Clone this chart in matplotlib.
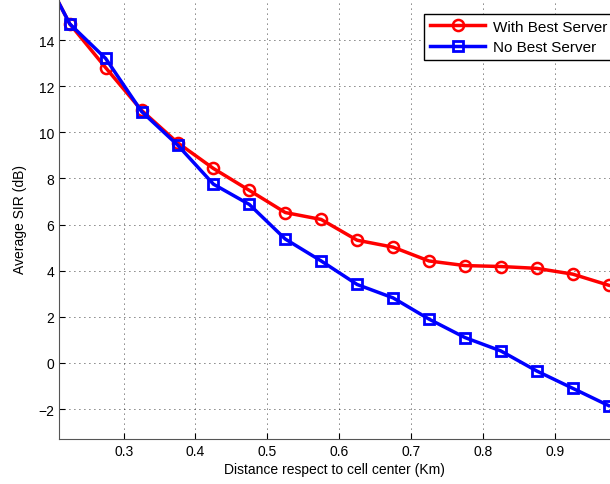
import numpy as np
import matplotlib.pyplot as plt

plt.rcParams['font.family'] = ['Liberation Sans', 'DejaVu Sans']

distance = [0.175, 0.225, 0.275, 0.325, 0.375, 0.425, 0.475, 0.525, 0.575,
            0.625, 0.675, 0.725, 0.775, 0.825, 0.875, 0.925, 0.975]
sir_best = [17.7, 14.7, 12.8, 10.95, 9.55, 8.43, 7.48, 6.52, 6.22,
            5.32, 5.02, 4.42, 4.22, 4.18, 4.1, 3.85, 3.37]
sir_nobest = [17.7, 14.7, 13.2, 10.9, 9.45, 7.75, 6.87, 5.37, 4.42,
              3.4, 2.82, 1.9, 1.1, 0.52, -0.35, -1.1, -1.85]

fig = plt.figure(figsize=(6.1, 4.85), dpi=100)
ax = fig.add_axes([59/610, 45/485, 1 - 59/610, 1 - 45/485])

ax.plot(distance, sir_best, color='red', linewidth=2.5, marker='o',
        markersize=8, markerfacecolor='none', markeredgewidth=1.8,
        label='With Best Server')
ax.plot(distance, sir_nobest, color='blue', linewidth=2.5, marker='s',
        markersize=7, markerfacecolor='none', markeredgewidth=2,
        label='No Best Server')

ax.set_xlim(0.21, 0.977)
ax.set_ylim(-3.3, 15.78)
ax.set_xticks([0.3, 0.4, 0.5, 0.6, 0.7, 0.8, 0.9])
ax.set_yticks([-2, 0, 2, 4, 6, 8, 10, 12, 14])
ax.grid(True, color='black', linestyle=(0, (1, 5)), linewidth=0.6)
ax.tick_params(direction='in', length=4, labelsize=10)
for s in ['top', 'right']:
    ax.spines[s].set_visible(False)
for s in ['left', 'bottom']:
    ax.spines[s].set_color('#555555')

ax.set_xlabel('Distance respect to cell center (Km)', fontsize=10, labelpad=3)
ax.set_ylabel('Average SIR (dB)', fontsize=10, labelpad=8)

leg = ax.legend(loc='upper right', bbox_to_anchor=(1.02, 0.984), fontsize=11,
                fancybox=False, framealpha=1, edgecolor='black',
                borderpad=0.4, handlelength=3.6, labelspacing=0.4,
                handletextpad=0.5)
leg.get_frame().set_linewidth(1)

fig.savefig('out.png', dpi=100)
